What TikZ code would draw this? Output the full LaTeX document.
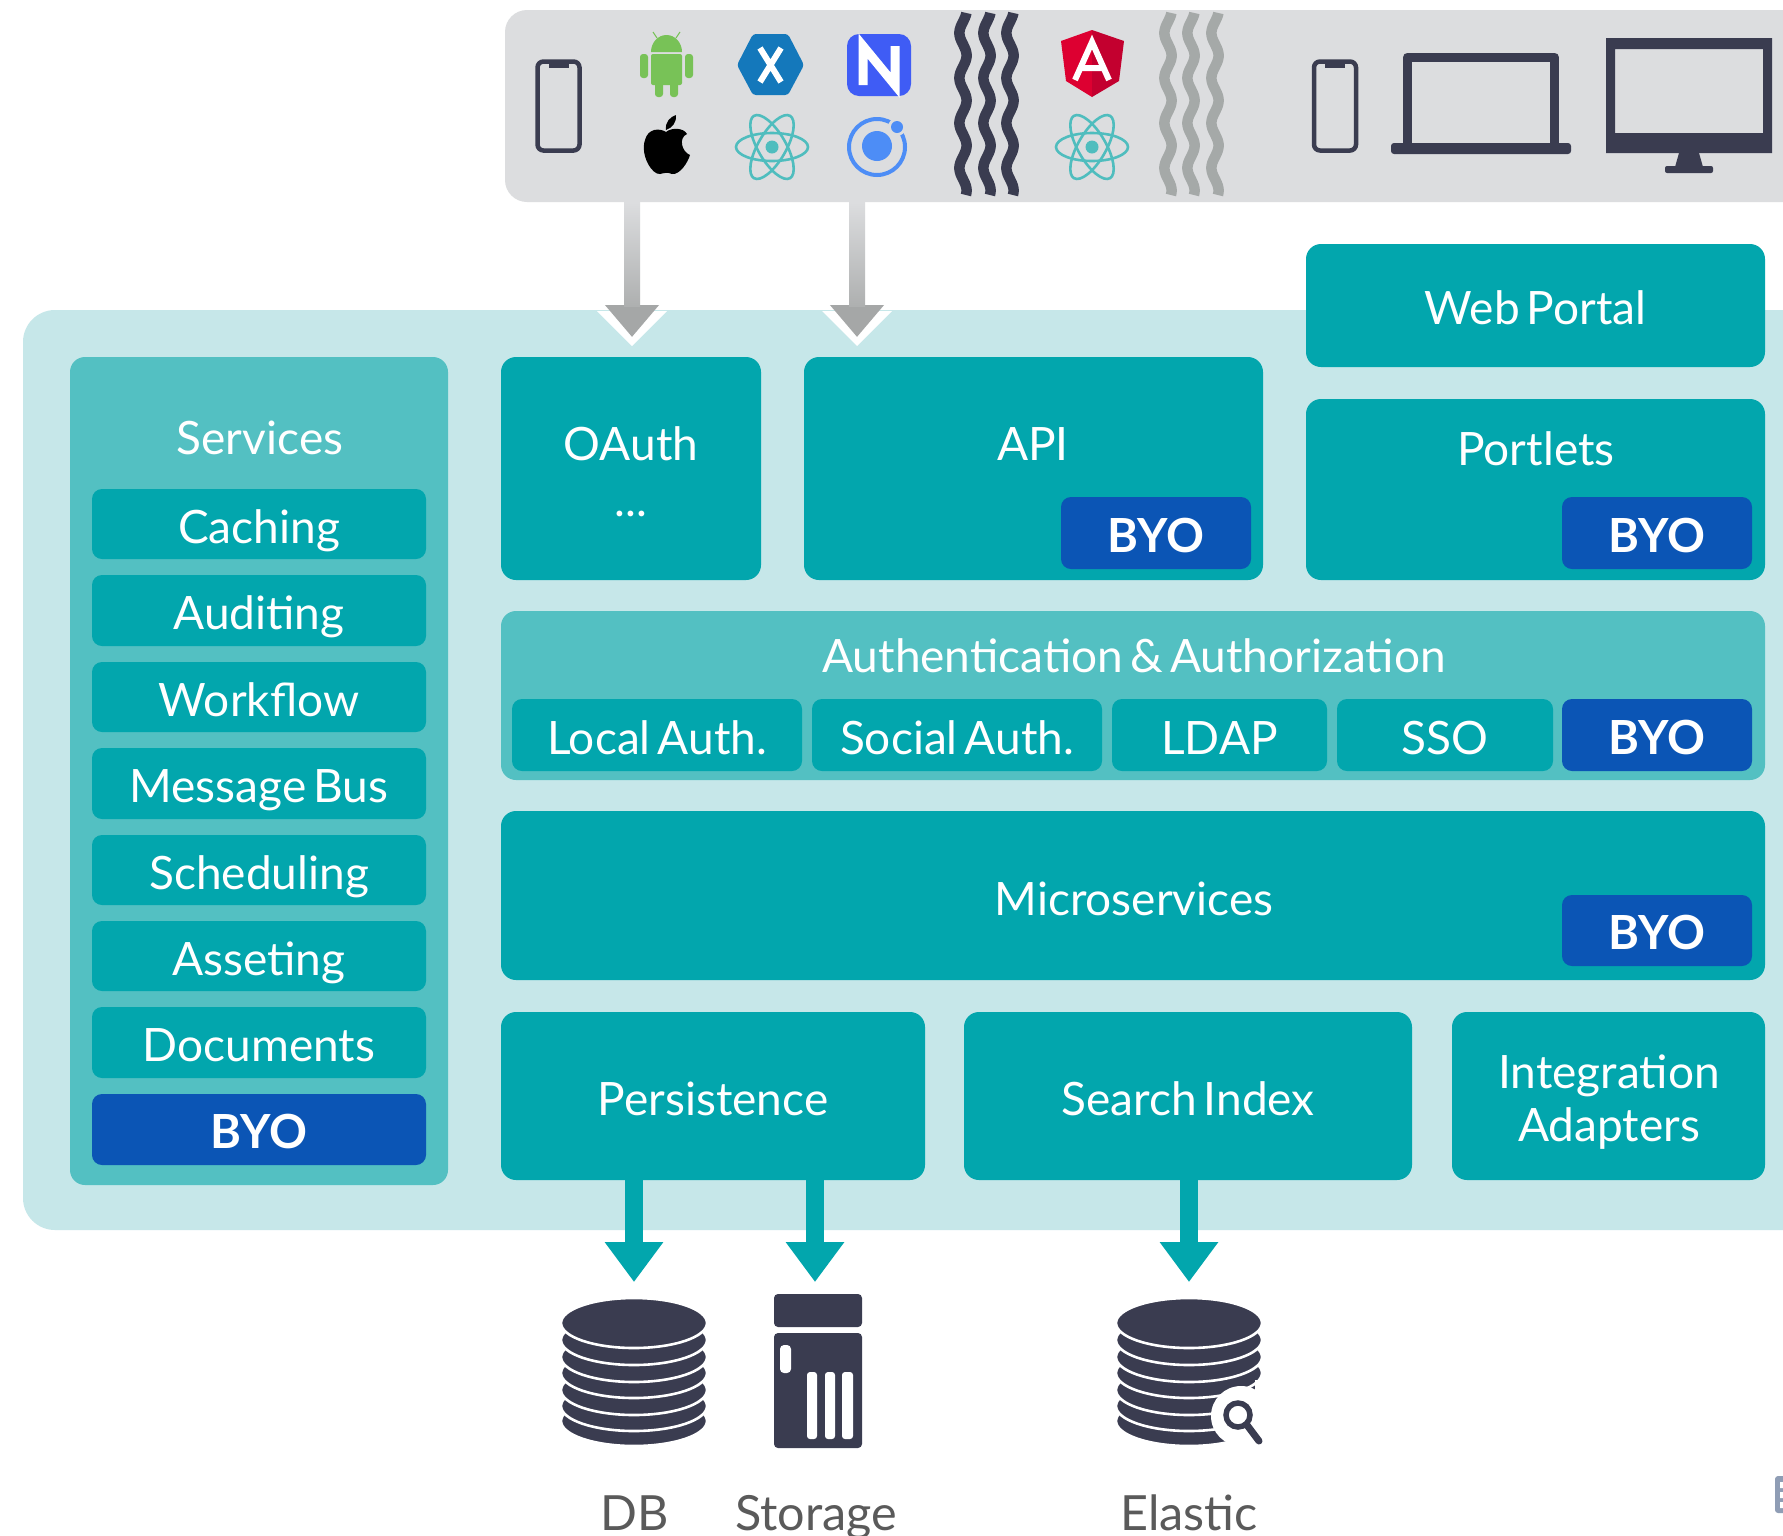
\documentclass[tikz,border=0pt]{standalone}
\usepackage{fontspec}
\setmainfont[WordSpace=0.6]{Lato}
\usetikzlibrary{arrows.meta,calc,shadings}
\definecolor{teal1}{HTML}{02A6AD}
\definecolor{lightp}{HTML}{C6E7E9}
\definecolor{midp}{HTML}{53C0C2}
\definecolor{byoc}{HTML}{0B55B5}
\definecolor{barc}{HTML}{DCDDDF}
\definecolor{darkc}{HTML}{3A3C50}
\definecolor{wavyg}{HTML}{A5A9A8}
\definecolor{headg}{HTML}{A5A7A7}
\definecolor{reactc}{HTML}{4FBDBE}
\definecolor{ionc}{HTML}{4D8DF6}
\definecolor{androidc}{HTML}{78C257}
\definecolor{xamc}{HTML}{1478BB}
\definecolor{nsc}{HTML}{3F5CF5}
\definecolor{labelc}{HTML}{5A5A5A}
\definecolor{angl}{HTML}{DD0031}
\definecolor{angr}{HTML}{C3002F}
\definecolor{widgetc}{HTML}{8F9DB5}
\tikzset{
  box/.style={rectangle,inner sep=0pt,rounded corners=15pt,text=white,align=center,
    font=\fontsize{46}{53}\selectfont,text height=38pt,text depth=0pt},
  tealbox/.style={box,fill=teal1},
  rowbox/.style={box,fill=teal1,rounded corners=10pt},
  byobox/.style={box,fill=byoc,rounded corners=10pt,font=\fontsize{47}{53}\selectfont\bfseries},
  panel/.style={box,fill=midp},
  lbl/.style={inner sep=0pt,text=white,font=\fontsize{46}{53}\selectfont,text height=38pt,text depth=0pt,align=center},
  twoline/.style={text height=,text depth=},
  botlbl/.style={inner sep=0pt,text=labelc,font=\fontsize{48.5}{53}\selectfont,anchor=base},
  grayarrow/.style={-{Triangle[width=52pt,length=32pt]},line width=16pt,draw=headg},
  tealarrow/.style={-{Triangle[width=56pt,length=40pt]},line width=18pt,draw=teal1},
  devline/.style={draw=darkc,fill=none,line width=4.5pt},
  reacticon/.style={draw=reactc,line width=2.6pt,fill=none},
}
\newcommand{\bx}[7]{%
  \pgfmathsetmacro{\cxx}{(#3+#5)/2}\pgfmathsetmacro{\cyy}{(#4+#6)/2}%
  \pgfmathsetmacro{\www}{#5-#3}\pgfmathsetmacro{\hhh}{#6-#4}%
  \node[#2,minimum width=\www pt,minimum height=\hhh pt] (#1) at (\cxx,\cyy) {#7};}
\newcommand{\wavy}[2]{%
  \draw[#2,line width=10.5pt,line cap=butt] plot[domain=13:195,samples=80,smooth,variable=\t] ({#1-3.6*cos(8*(\t-33))},\t);}
\newcommand{\reacticn}[2]{%
  \begin{scope}[shift={(#1,#2)}]
    \foreach \a in {0,60,120}{\draw[reacticon,rotate=\a] (0,0) ellipse [x radius=36,y radius=14];}
    \fill[reactc] (0,0) circle (6.5);
  \end{scope}}
\newcommand{\phoneicn}[2]{%
  \draw[devline,rounded corners=6pt] (#1,#2) rectangle ++(42,89);
  \fill[darkc] ($(#1,#2)+(11,0)$) rectangle ++(20,6);}
\newcommand{\dbstack}[1]{%
  \foreach \b in {1445,1430,1414,1397,1381,1364,1347}{%
    \pgfmathsetmacro{\cy}{\b-24}%
    \filldraw[fill=darkc,draw=white,line width=2.6pt] (#1,\cy) ellipse [x radius=73,y radius=25];}}
\begin{document}
\begin{tikzpicture}[x=1pt,y=-1pt]
\useasboundingbox (0,0) rectangle (1783,1535);
\fill[white] (0,0) rectangle (1783,1535);

% main panels
\bx{outer}{box,fill=lightp,rounded corners=32pt}{23}{310}{1830}{1230}{}
\bx{topbar}{box,fill=barc,rounded corners=22pt}{505}{10}{1830}{202}{}

% web portal etc
\bx{webportal}{tealbox}{1306}{244}{1765}{367}{Web Portal}
\bx{portlets}{tealbox}{1306}{399}{1765}{580}{}
\node[lbl] (portletslabel) at (1536,446) {Portlets};
\bx{portletsbyo}{byobox}{1562}{497}{1752}{569}{BYO}

% services
\bx{services}{panel}{70}{357}{448}{1185}{}
\node[lbl] (serviceslabel) at (260,435) {Services};
\bx{caching}{rowbox}{92}{489}{426}{559}{Caching}
\bx{auditing}{rowbox}{92}{575}{426}{646}{Auditing}
\bx{workflow}{rowbox}{92}{662}{426}{732}{Workflow}
\bx{messagebus}{rowbox}{92}{748}{426}{819}{Message Bus}
\bx{scheduling}{rowbox}{92}{835}{426}{905}{Scheduling}
\bx{asseting}{rowbox}{92}{921}{426}{991}{Asseting}
\bx{documents}{rowbox}{92}{1007}{426}{1078}{Documents}
\bx{servicesbyo}{byobox}{92}{1094}{426}{1165}{BYO}

% oauth and api
\bx{oauth}{tealbox}{501}{357}{761}{580}{}
\node[lbl] (oauthlabel) at (631,441) {OAuth};
\node[lbl] (oauthdots) at (631,497) {...};
\bx{api}{tealbox}{804}{357}{1263}{580}{}
\node[lbl] (apilabel) at (1033,441) {API};
\bx{apibyo}{byobox}{1061}{497}{1251}{569}{BYO}

% auth
\bx{auth}{panel}{501}{611}{1765}{780}{}
\node[lbl] (authlabel) at (1134,653) {Authentication \& Authorization};
\bx{localauth}{rowbox}{512}{699}{802}{771}{Local Auth.}
\bx{socialauth}{rowbox}{812}{699}{1102}{771}{Social Auth.}
\bx{ldap}{rowbox}{1112}{699}{1327}{771}{LDAP}
\bx{sso}{rowbox}{1337}{699}{1553}{771}{SSO}
\bx{authbyo}{byobox}{1562}{699}{1752}{771}{BYO}

% microservices
\bx{micro}{tealbox}{501}{811}{1765}{980}{}
\node[lbl] (microlabel) at (1134,896) {Microservices};
\bx{microbyo}{byobox}{1562}{895}{1752}{966}{BYO}

% persistence row
\bx{persistence}{tealbox}{501}{1012}{925}{1180}{Persistence}
\bx{search}{tealbox}{964}{1012}{1412}{1180}{Search Index}
\bx{integration}{tealbox}{1452}{1012}{1765}{1180}{}
\node[lbl,twoline] (integrationlabel) at (1609,1102) {Integration\\Adapters};

% grey arrows
\coordinate (oauthtip) at (632,337);
\coordinate (apitip) at (857,337);
\fill[white] (597,311) -- (667,311) -- (632,346) -- cycle;
\fill[white] (822,311) -- (892,311) -- (857,346) -- cycle;
\draw[grayarrow] (oauthtip |- topbar.south) -- (oauthtip);
\draw[grayarrow] (apitip |- topbar.south) -- (apitip);
\shade[top color=barc,bottom color=headg!90!white] (624,202) rectangle (640,306);
\shade[top color=barc,bottom color=headg!90!white] (849,202) rectangle (865,306);

% teal arrows
\coordinate (dbtip) at (634,1282);
\coordinate (storagetip) at (815,1282);
\coordinate (elastictip) at (1189,1282);
\draw[tealarrow] (dbtip |- persistence.south) -- (dbtip);
\draw[tealarrow] (storagetip |- persistence.south) -- (storagetip);
\draw[tealarrow] (elastictip |- search.south) -- (elastictip);

% top icons
\phoneicn{537.5}{61.5}
% android
\begin{scope}
  \fill[androidc] (651,52) arc[start angle=180,end angle=360,x radius=15.5,y radius=17] -- cycle;
  \draw[androidc,line width=1pt] (657,38) -- (653,32) (676,38) -- (680,32);
  \fill[androidc,rounded corners=2pt] (651,54) rectangle (682,85);
  \fill[androidc,rounded corners=3pt] (640,54) rectangle (648,78);
  \fill[androidc,rounded corners=3pt] (685,54) rectangle (693,78);
  \fill[androidc,rounded corners=3pt] (655,80) rectangle (663,97);
  \fill[androidc,rounded corners=3pt] (670,80) rectangle (678,97);
\end{scope}
% apple
\fill[black] (666,132) .. controls (660,128) and (648,128) .. (645,140) .. controls (640,155) and (652,175) .. (660,174) .. controls (664,173) and (668,172) .. (672,174) .. controls (680,175) and (688,162) .. (690,155) .. controls (682,152) and (678,138) .. (687,134) .. controls (684,128) and (672,127) .. (666,132) -- cycle;
\fill[black] (666,130) .. controls (665,122) and (670,117) .. (676,115) .. controls (677,122) and (672,128) .. (666,130) -- cycle;
% xamarin
\fill[xamc,rounded corners=3pt] (737,65) -- (753,34) -- (788,34) -- (804,65) -- (788,95) -- (753,95) -- cycle;
\draw[white,line width=6pt] (760,48) -- (781,82) (781,48) -- (760,82);
% nativescript
\fill[nsc,rounded corners=12pt] (847,34) rectangle (911,96);
\draw[white,line width=9pt,line join=miter] (863,85) -- (863,46) -- (895,85) -- (895,46);
% react & ionic
\reacticn{772}{147}
\draw[ionc,line width=4pt] (877,147) circle (28);
\fill[barc] (897,127) circle (9);
\fill[ionc] (897,127) circle (6);
\fill[ionc] (877,146) circle (15);
% wavy
\wavy{963}{darkc}\wavy{987}{darkc}\wavy{1010}{darkc}
\wavy{1168}{wavyg}\wavy{1191}{wavyg}\wavy{1215}{wavyg}
% angular
\fill[angl] (1092,30) -- (1061,41) -- (1066,81) -- (1092,97) -- cycle;
\fill[angr] (1092,30) -- (1124,41) -- (1119,81) -- (1092,97) -- cycle;
\draw[white,line width=6pt] (1075,80) -- (1092,42) -- (1109,80) (1081,68) -- (1103,68);
\reacticn{1092}{147}
% devices
\phoneicn{1314}{61.5}
\draw[draw=darkc,line width=9pt,line join=round] (1407.5,147) -- (1407.5,57) -- (1554.5,57) -- (1554.5,147);
\fill[darkc,rounded corners=3pt] (1391,143) rectangle (1571,154);
\fill[darkc,even odd rule] (1606,38) rectangle (1772,153) (1615,49) rectangle (1763,133);
\fill[darkc] (1679,153) -- (1699,153) -- (1703,167) -- (1675,167) -- cycle;
\fill[darkc,rounded corners=2pt] (1665,166) rectangle (1713,173);

% DB
\dbstack{634}
\node[botlbl] (dblabel) at (635,1530) {DB};
% storage
\fill[darkc,rounded corners=4pt] (774,1294) rectangle (862,1327);
\fill[darkc,rounded corners=4pt] (774,1333) rectangle (862,1448);
\fill[white,rounded corners=4pt] (780,1345) rectangle (791,1373);
\fill[white,rounded corners=3pt] (807,1372) rectangle (817,1439);
\fill[white,rounded corners=3pt] (825,1372) rectangle (835,1439);
\fill[white,rounded corners=3pt] (842,1372) rectangle (853,1439);
\node[botlbl] (storagelabel) at (816,1530) {Storage};
% elastic
\dbstack{1189}
\fill[white] (1241,1416) circle (30);
\fill[white] (1255,1380) rectangle (1265,1450);
\draw[darkc,line width=5.5pt] (1238,1415) circle (12);
\draw[darkc,line width=7pt,line cap=round] (1247,1425) -- (1259,1441);
\node[botlbl] (elasticlabel) at (1189,1530) {Elastic};
% corner widget
\fill[widgetc,rounded corners=3pt] (1775,1476) rectangle (1790,1513);
\fill[white] (1780,1482) rectangle (1783,1488) (1780,1492) rectangle (1783,1498) (1780,1502) rectangle (1783,1508);
\end{tikzpicture}
\end{document}
